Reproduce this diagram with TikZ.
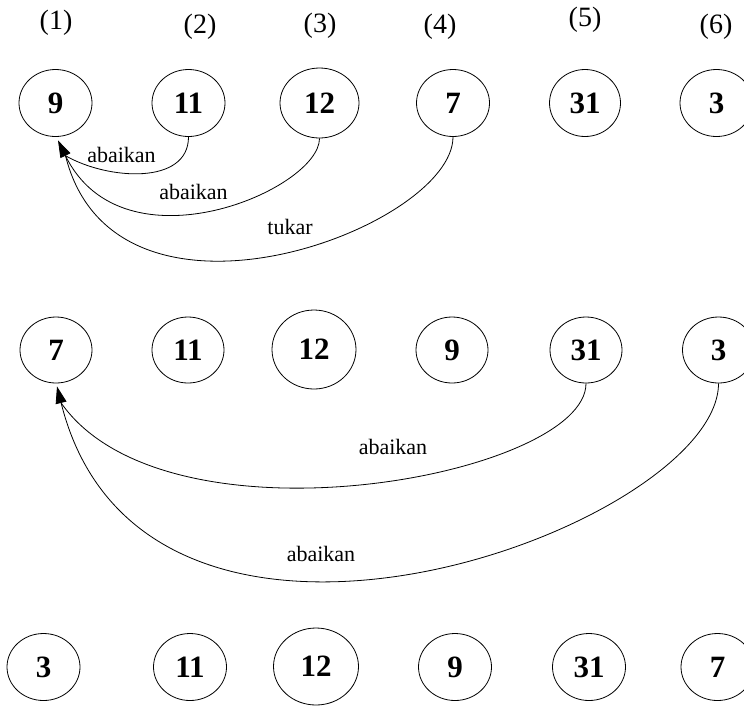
\documentclass[tikz,border=0pt]{standalone}
\usepackage{fontspec}
\setmainfont{Liberation Serif}
\usetikzlibrary{arrows.meta,shapes.geometric}

\tikzset{
  num/.style={draw=black,ellipse,line width=0.8pt,inner sep=0pt,minimum width=73pt,minimum height=67pt,font=\fontsize{31}{37}\selectfont\bfseries},
  idx/.style={font=\fontsize{28}{33}\selectfont},
  note/.style={font=\fontsize{22}{26}\selectfont},
  link/.style={draw=black,line width=0.8pt},
  head/.style={-{Triangle[length=17pt,width=11pt]}}
}

\begin{document}
\begin{tikzpicture}[x=1pt,y=1pt]
\useasboundingbox (0,0) rectangle (744,-705);
% the positions
\node[idx] (p1) at (56,-22.5) {(1)};
\node[idx] (p2) at (200,-26.5) {(2)};
\node[idx] (p3) at (320,-26) {(3)};
\node[idx] (p4) at (440,-26.5) {(4)};
\node[idx] (p5) at (585,-20) {(5)};
\node[idx] (p6) at (716,-26.5) {(6)};

% first pass
\node[num] (a1) at (55.5,-103) {9};
\node[num] (a2) at (188.5,-103) {11};
\node[num,minimum width=79pt,minimum height=70pt] (a3) at (319.5,-103) {12};
\node[num] (a4) at (453,-103) {7};
\node[num,minimum width=71pt] (a5) at (585,-103) {31};
\node[num] (a6) at (716.5,-103) {3};

\coordinate (t1) at ([xshift=2.5pt,yshift=-3.5pt]a1.south);
\coordinate (j1) at ([xshift=10pt,yshift=-18.8pt]a1.south);
\draw[link] (a2.south) to[out=-90,in=-30] (j1);
\draw[link,head] (a3.south) to[out=-90,in=-64,out looseness=0.5,in looseness=1.45] (t1);
\draw[link] (a4.south) to[out=-90,in=-76,out looseness=0.6,in looseness=1.35] (j1);
\node[note] (n1) at (121.5,-155) {abaikan};
\node[note] (n2) at (193.5,-191.5) {abaikan};
\node[note] (n3) at (290,-226.5) {tukar};

% second pass
\node[num,minimum width=72pt,minimum height=66pt] (b1) at (56,-350) {7};
\node[num,minimum width=72pt,minimum height=66pt] (b2) at (188,-350) {11};
\node[num,minimum width=84pt,minimum height=79pt] (b3) at (314,-349.5) {12};
\node[num,minimum width=72pt,minimum height=66pt] (b4) at (452,-350) {9};
\node[num,minimum width=72pt,minimum height=66pt] (b5) at (586,-350) {31};
\node[num,minimum width=72pt,minimum height=66pt] (b6) at (718.5,-350) {3};

\coordinate (t2) at ([xshift=1pt,yshift=-3pt]b1.south);
\coordinate (j2) at ([xshift=5.1pt,yshift=-19.5pt]b1.south);
\draw[link] (b5.south) to[out=-90,in=-55,out looseness=0.45,in looseness=0.9] (j2);
\draw[link,head] (b6.south) to[out=-90,in=-76,out looseness=0.55,in looseness=1.4] (t2);
\node[note] (n4) at (393,-447) {abaikan};
\node[note] (n5) at (321,-554) {abaikan};

% result
\node[num] (c1) at (43.5,-667) {3};
\node[num] (c2) at (190,-667) {11};
\node[num,minimum width=85pt,minimum height=77pt] (c3) at (316,-666.5) {12};
\node[num] (c4) at (455,-667) {9};
\node[num] (c5) at (589,-667) {31};
\node[num] (c6) at (717.5,-667) {7};
\end{tikzpicture}
\end{document}
